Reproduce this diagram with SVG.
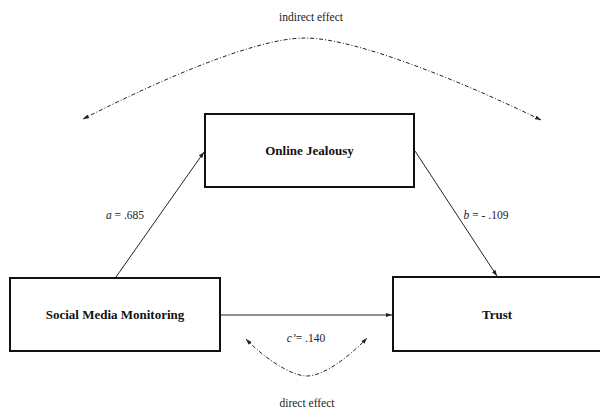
<svg xmlns="http://www.w3.org/2000/svg" width="600" height="412" viewBox="0 0 600 412">
<style>
.box{fill:#fff;stroke:#111;stroke-width:2}
.lbl{font-family:'Liberation Serif','DejaVu Serif',serif;font-weight:bold;font-size:13px;fill:#111;text-anchor:middle}
.txt{font-family:'Liberation Serif','DejaVu Serif',serif;font-size:11.5px;fill:#222;text-anchor:middle}
.arr{stroke:#222;stroke-width:1;fill:none}
.dd{stroke:#222;stroke-width:1;fill:none;stroke-dasharray:4 2 1 2}
</style>
<defs>
<marker id="ah" viewBox="0 0 10 10" refX="10" refY="5" markerWidth="6" markerHeight="6" orient="auto-start-reverse" markerUnits="userSpaceOnUse">
<path d="M0,1.5 L10,5 L0,8.5 Z" fill="#222"/>
</marker>
</defs>
<rect width="600" height="412" fill="#fff"/>
<g id="connectors">
<line class="arr" x1="116" y1="277" x2="204" y2="152" marker-end="url(#ah)"/>
<line class="arr" x1="415" y1="151" x2="497" y2="276" marker-end="url(#ah)"/>
<line class="arr" x1="221" y1="315" x2="392" y2="315" marker-end="url(#ah)"/>
<path class="dd" d="M83,119 C140,90 250,38 305,38 C360,38 480,90 541,120" marker-start="url(#ah)" marker-end="url(#ah)"/>
<path class="dd" d="M246,339 C262,356 290,376 307,376 C324,376 350,356 367,338" marker-start="url(#ah)" marker-end="url(#ah)"/>
</g>
<g id="node-jealousy">
<rect class="box" x="205" y="114" width="209" height="73"/>
<text class="lbl" x="309.5" y="155">Online Jealousy</text>
</g>
<g id="node-smm">
<rect class="box" x="10" y="278" width="210" height="73"/>
<text class="lbl" x="115" y="319">Social Media Monitoring</text>
</g>
<g id="node-trust">
<rect class="box" x="393" y="277" width="210" height="74"/>
<text class="lbl" x="497" y="319">Trust</text>
</g>
<g id="labels">
<text class="txt" x="311" y="21">indirect effect</text>
<text class="txt" x="125" y="219"><tspan font-style="italic">a</tspan> = .685</text>
<text class="txt" x="486" y="219"><tspan font-style="italic">b</tspan> = - .109</text>
<text class="txt" x="306" y="342"><tspan font-style="italic">c’</tspan>= .140</text>
<text class="txt" x="307" y="407">direct effect</text>
</g>
</svg>
